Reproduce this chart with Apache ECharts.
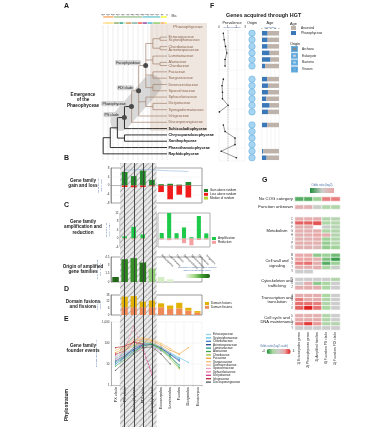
<!DOCTYPE html>
<html>
<head>
<meta charset="utf-8">
<script src="https://cdn.jsdelivr.net/npm/echarts@6.0.0/dist/echarts.min.js"></script>
<style>
html,body{margin:0;padding:0;background:#ffffff;}
#chart{width:389px;height:446px;}
</style>
</head>
<body>
<div id="chart"></div>
<script>
// ================= DATA =================
const eraNames = ['Cenozoic','Mesozoic','Paleozoic','Neoproterozoic'];
const eraDurations = [66,186,289,109];
const periodNames = ['Neogene','Paleogene','Cretaceous','Jurassic','Triassic','Permian','Carboniferous','Devonian','Silurian','Ordovician','Cambrian','Ediacaran','Cryogenian'];
const periodDurations = [23,43,79,56,51,47,60,60,24,42,56,94,15];

const speciesTree = {name:'Stramenopiles', children:[
  {name:'n1', children:[
    {name:'n2', children:[
      {name:'PS clade', children:[
        {name:'Phaeophyceae', children:[
          {name:'FDI clade', children:[
            {name:'Fucophycideae', children:[
              {name:'ect', children:[
                {name:'ect1', children:[{name:'Ectocarpaceae'},{name:'Scytosiphonaceae'}]},
                {name:'ect2', children:[{name:'Chordariaceae'},{name:'Acinetosporaceae'}]}]},
              {name:'lam', children:[{name:'Laminariaceae'},{name:'lam1', children:[{name:'Alariaceae'},{name:'Chordaceae'}]}]},
              {name:'fuc', children:[{name:'Fucaceae'},{name:'Sargassaceae'}]},
              {name:'des', children:[{name:'Desmarestiaceae'},{name:'Sporochnaceae'}]}]},
            {name:'dic', children:[{name:'Sphacelariaceae'},{name:'dic1', children:[{name:'Dictyotaceae'},{name:'Syringodermataceae'}]}]},
            {name:'Ishigeaceae'}]},
          {name:'Discosporangiaceae'}]},
        {name:'Schizocladiophyceae'}]},
      {name:'n3', children:[{name:'Chrysoparadoxophyceae'},{name:'Xanthophyceae'}]}]},
    {name:'Phaeothamniophyceae'}]},
  {name:'Raphidophyceae'}]};

const phylostrata = ['PX clade','PS clade','Phaeophyceae','FDI clade','Fucophycideae','Ectocarpales','Laminariales','Fucales','Dictyotales','Ectocarpus'];
const emergenceStrata = ['PS clade','Phaeophyceae','FDI clade','Fucophycideae'];

const familyGain = [null,6.2,4.3,6.8,2.6,0.6,0.8,0.4,1.6,null];
const familyLoss = [null,-0.7,-0.8,-0.7,-0.3,-3.0,-6.3,-4.2,-5.5,null];
const randomMedian = [null,7.0,7.1,7.3,7.2,6.9,6.7,6.6,6.4,null];

const ampStrata = ['PS clade','Phaeophyceae','FDI clade','Fucophycideae'];
const ampMain = [1.0,5.5,1.9,null];
const redMain = [-0.3,-0.4,-0.3,null];
const insetGroups = ['Ectocarpales','Laminariales','Fucales','Desmarestiales','Sphacelariales','Dictyotales','Ishigeales'];
const ampInset = [2.6,12.5,2.5,5.2,0.6,10.6,2.4];
const redInset = [-0.5,-0.8,-0.4,-2.2,-3.2,-0.7,-0.5];

const originShare = [0.9,4.1,4.3,3.5,2.4,0.9,0.5];
const originShade = [0.95,0.8,0.72,0.88,0.4,0.12,0.08];

const domainFission = [null,7,7,7,7,7,5.5,6,4,2];
const domainFusion = [null,9.5,10,5,6,3.5,3,5,2.5,1.5];

const founderNames = ['Ectocarpaceae','Scytosiphonaceae','Chordariaceae','Acinetosporaceae','Laminariaceae','Alariaceae','Chordaceae','Fucaceae','Sargassaceae','Desmarestiaceae','Sporochnaceae','Sphacelariaceae','Dictyotaceae','Ishigeaceae','Discosporangiaceae'];
const founderCounts = [
  [22,35,55,80,95,60,32,18,null,null],
  [18,30,50,90,100,65,35,20,12,null],
  [10,20,42,75,85,55,30,16,null,null],
  [14,25,48,82,88,58,28,14,null,null],
  [12,22,60,95,80,45,22,9,null,null],
  [8,16,38,70,90,52,24,7,null,null],
  [28,45,75,120,95,50,18,6,null,null],
  [35,55,110,160,130,80,45,30,60,null],
  [45,70,150,180,150,95,55,28,null,null],
  [20,38,85,130,110,65,35,null,null,null],
  [16,28,55,95,72,38,null,null,null,null],
  [26,48,650,45,4,null,null,null,null,null],
  [30,40,120,60,3,null,null,null,null,null],
  [60,70,110,90,null,null,null,null,null,null],
  [5,12,30,60,65,30,10,null,null,null]
];

const hgtSlots = ['h1','h2','h3','h4','h5','h6','gapA','h7','h8','h9','h10','h11','h12','gapB','h13','h14','h15','h16','h17','h18'];
const hgtPrevalence = [0.5,0.6,0.75,0.9,0.7,0.7,null,0.5,0.35,0.4,0.4,1.05,0.05,null,0.5,0.7,1.85,1.85,0.25,2.0];
const hgtOrigin = ['Bacteria','Bacteria','Bacteria','Bacteria','Bacteria','Bacteria',null,'Bacteria','Bacteria','Bacteria','Bacteria','Bacteria','Bacteria',null,'Bacteria','Bacteria','Bacteria','Bacteria','Bacteria','Bacteria'];
const hgtAgePhaeo = [0.33,0.33,0.33,0.45,0.5,0.18,null,0.3,0.35,0.35,0.25,0.45,0.35,null,0.3,null,null,null,0.08,0.27];
const hgtAgeAncestral = [0.67,0.67,0.67,0.55,0.5,0.82,null,0.7,0.65,0.65,0.75,0.55,0.65,null,0.7,null,null,null,0.92,0.73];
const originNames = ['Archaea','Eukaryote','Bacteria','Viruses'];

const cogColumns = ['1) Ectocarpales genes','2) Phaeophyceae genes','3) Amplified families','4) Founders PS clade','5) Founders FDI clade'];
const cogRowIds = ['noCOG','g1','S','g2','g3','C','E','F','G','H','I','P','Q','g4','M','N','O','T','V','g5','W','U','Z','g6','A','B','J','K','g7','D','L','X','Y'];
const cogValues = {
  noCOG:[-3.2,-3.2,-2.2,2.6,2.6],
  S:[1.4,1.4,-0.3,-1.5,-1.6],
  C:[1.5,1.5,1.6,-1.6,-1.2],
  E:[3.0,3.0,3.2,-1.8,-1.5],
  F:[1.4,1.4,null,-0.2,-1.2],
  G:[1.5,1.5,1.6,-1.8,-1.6],
  H:[1.4,1.5,2.0,1.6,-1.4],
  I:[1.4,1.4,1.6,-2.2,-1.6],
  P:[1.5,1.5,1.5,-2.3,-1.5],
  Q:[1.4,1.4,1.0,-2.3,-2.1],
  M:[1.8,1.8,-2.4,-2.2,-2.8],
  N:[2.0,2.0,1.5,-2.6,-3.6],
  O:[2.6,2.8,1.6,-3.2,-2.2],
  T:[1.6,1.6,1.5,-1.8,-0.3],
  V:[0,0,null,null,null],
  W:[0,0,0,0,-1.5],
  U:[0,1.6,-2.4,-2.0,0],
  Z:[1.6,1.6,1.6,-1.8,0],
  A:[1.6,1.6,1.6,-2.0,0],
  B:[2.6,1.6,1.6,-1.6,0],
  J:[2.8,2.8,2.6,-1.6,0],
  K:[3.0,4.0,2.8,-2.0,0],
  D:[1.5,1.5,1.5,-1.6,0],
  L:[1.6,1.6,1.6,-1.6,0],
  X:[2.6,3.6,2.2,-1.6,-1.4],
  Y:[0,0,0,0,0]
};
const cogSideLabels = {noCOG:'No COG category', S:'Function unknown'};
const cogGroupLabels = {G:'Metabolism', O:'Cell wall and\nsignaling', U:'Cytoskeleton and\ntrafficking', B:'Transcription and\ntranslation', L:'Cell cycle and\nDNA maintenance'};

// ================= STYLES =================
const FONT = 'Liberation Sans, Arial, Helvetica, sans-serif';
const BROWN = '#a3826f';
const eraColors = ['#f2f91d','#67c5ca','#99c08d','#f7a55a'];
const periodColors = ['#ffe619','#fd9a52','#7fc64e','#34b2c9','#812b92','#f04028','#67a599','#cb8c37','#b3e1b6','#009270','#7fa056','#fed96a','#fecc5c'];
const founderColors = ['#8fd3ea','#5ec0e4','#3b7fd4','#23478f','#1d9a8a','#3aa64a','#9bbf3a','#f0a030','#f4c070','#f2b7a0','#e9a0c0','#e87aa8','#d43a8a','#b02838','#555555'];
const originColors = {Archaea:'#6b6b6b', Eukaryote:'#b9c4dc', Bacteria:'#8fcaec', Viruses:'#4aa3dc'};

function depthOf(n){ return n.children ? 1 + Math.max(...n.children.map(depthOf)) : 0; }
const TREE_MAX = depthOf(speciesTree);
function buildTree(node, depth, brown) {
  const isBrown = brown || node.name === 'Phaeophyceae';
  if (!node.children) {
    let out = {name: node.name, symbolSize: 0,
      label: {show:true, position:'right', distance:1.5, fontSize:3.8, fontFamily:FONT,
        color: brown ? '#8a6652' : '#111', fontWeight: brown ? 'normal' : 'bold'}};
    for (let d = depth; d < TREE_MAX; d++) {
      out = {name:'', symbolSize:0, label:{show:false},
        lineStyle:{color: brown ? BROWN : '#1a1a1a', width: brown ? 0.7 : 0.9}, children:[out]};
    }
    return out;
  }
  const tagged = emergenceStrata.includes(node.name);
  return {
    name: node.name,
    symbol: 'circle',
    symbolSize: tagged ? 5 : 0,
    itemStyle: {color:'#4a4a4a'},
    label: tagged ? {show:true, position:'left', distance:2, offset:[0,-3], fontSize:3.5, fontFamily:FONT, color:'#222',
      backgroundColor:'#d6d6d6', borderRadius:1.5, padding:[0.6,1.2]} : {show:false},
    lineStyle: {color: isBrown ? BROWN : '#1a1a1a', width: isBrown ? 0.7 : 0.9},
    children: node.children.map(c => buildTree(c, depth + 1, isBrown))
  };
}
const treeRoot = buildTree(speciesTree, 0, false);

const smallAxisLabel = {fontSize:3, margin:1.5, color:'#333', fontFamily:FONT};
const thinLine = {show:true, lineStyle:{color:'#666', width:0.5}};
const grids = [
  {left:103, top:16, width:64, height:8},
  {left:103, top:25, width:64, height:135},
  {left:111, top:163, width:91, height:264},
  {left:111, top:168, width:91, height:35, show:true, borderColor:'#555', borderWidth:0.6},
  {left:120, top:213, width:36.4, height:34, show:true, borderColor:'#777', borderWidth:0.6},
  {left:158, top:213, width:52, height:34, show:true, borderColor:'#777', borderWidth:0.6},
  {left:111, top:257, width:91, height:25, show:true, borderColor:'#666', borderWidth:0.6},
  {left:111, top:295, width:91, height:20, show:true, borderColor:'#555', borderWidth:0.6},
  {left:111, top:322, width:91, height:63},
  {left:219, top:30, width:26, height:131},
  {left:247, top:30, width:10, height:131},
  {left:262, top:30, width:17, height:131},
  {left:295, top:197, width:45, height:133}
].map(g => Object.assign({containLabel:false, outerBoundsMode:'none', backgroundColor:'transparent'}, g));

const hiddenCat = (gi, data, extra) => Object.assign({type:'category', gridIndex:gi, data:data, axisLine:{show:false}, axisTick:{show:false}, axisLabel:{show:false}, splitLine:{show:false}}, extra || {});

const xAxes = [
  {type:'value', gridIndex:0, min:0, max:650, interval:50, inverse:true, position:'top',
    axisLine:{show:false}, axisTick:{show:true, length:1.2, lineStyle:{color:'#555', width:0.4}},
    axisLabel:{fontSize:2.4, margin:1, color:'#333', fontFamily:FONT}, splitLine:{show:false},
    name:'Ma', nameLocation:'start', nameGap:2, nameTextStyle:{fontSize:3.5, color:'#333'}},
  {type:'value', gridIndex:1, min:0, max:650, interval:50, inverse:true,
    axisLine:{show:false}, axisTick:{show:false}, axisLabel:{show:false},
    splitLine:{show:true, lineStyle:{color:'#d2d2d2', width:0.4}}},
  hiddenCat(2, phylostrata),
  hiddenCat(3, phylostrata, {axisLine:{show:true, onZero:true, lineStyle:{color:'#777', width:0.5}}}),
  hiddenCat(4, ampStrata, {axisLine:{show:true, onZero:true, lineStyle:{color:'#999', width:0.4}}}),
  hiddenCat(5, insetGroups, {axisLine:{show:true, onZero:true, lineStyle:{color:'#999', width:0.4}},
    axisLabel:{show:true, rotate:-45, fontSize:2.8, margin:8, color:'#333', interval:0, fontFamily:FONT}}),
  hiddenCat(6, phylostrata),
  hiddenCat(7, phylostrata),
  hiddenCat(8, phylostrata, {axisLine:{show:true, lineStyle:{color:'#888', width:0.5}},
    axisTick:{show:true, length:1.5, lineStyle:{color:'#888', width:0.4}},
    axisLabel:{show:true, rotate:90, fontSize:3.8, margin:2, color:'#222', interval:0, fontFamily:FONT},
    splitLine:{show:true, lineStyle:{color:'#e6e6e6', width:0.4}}}),
  {type:'value', gridIndex:9, min:0, max:3, interval:1, position:'top',
    axisLine:{show:false}, axisTick:{show:false}, axisLabel:smallAxisLabel,
    splitLine:{show:true, lineStyle:{color:'#e2e2e2', width:0.4}}},
  hiddenCat(10, ['origin']),
  {type:'value', gridIndex:11, min:0, max:1, interval:0.25, position:'top',
    axisLine:{show:false}, axisTick:{show:false},
    axisLabel:{fontSize:2.4, margin:1, color:'#333', fontFamily:FONT, formatter: v => (v === 0 || v === 1) ? String(v) : String(v).replace('0.', '.')},
    splitLine:{show:true, lineStyle:{color:'#e2e2e2', width:0.4}}},
  hiddenCat(12, cogColumns, {position:'bottom', axisLabel:{show:true, rotate:90, fontSize:3.3, margin:2, color:'#222', interval:0, fontFamily:FONT}})
];

const yName = (t) => ({name:t, nameLocation:'middle', nameRotate:90, nameGap:5, nameTextStyle:{fontSize:2.4, color:'#4a6fa5', fontFamily:FONT, lineHeight:3}});
const yAxes = [
  hiddenCat(0, ['Era','Period'], {inverse:true}),
  {type:'value', gridIndex:1, min:0, max:1, show:false},
  {type:'value', gridIndex:2, min:0, max:1, show:false},
  Object.assign({type:'value', gridIndex:3, min:-8, max:8, interval:4, axisLine:thinLine, axisTick:{show:false},
    axisLabel:smallAxisLabel, splitLine:{show:true, lineStyle:{color:'#ececec', width:0.4}}}, yName('Gene families\n(gain / loss)')),
  Object.assign({type:'value', gridIndex:4, min:-4, max:12, interval:4, axisLine:thinLine, axisTick:{show:false},
    axisLabel:smallAxisLabel, splitLine:{show:true, lineStyle:{color:'#ececec', width:0.4}}}, yName('Gene families\n(amp. / red.)')),
  {type:'value', gridIndex:5, min:-4, max:12, interval:4, axisLine:{show:false}, axisTick:{show:false},
    axisLabel:{show:false}, splitLine:{show:true, lineStyle:{color:'#ececec', width:0.4}}},
  Object.assign({type:'value', gridIndex:6, min:0, max:4.5, interval:1.5, axisLine:thinLine, axisTick:{show:false},
    axisLabel:smallAxisLabel, splitLine:{show:false}}, yName('Origin of amplified\nfamilies (%)')),
  Object.assign({type:'value', gridIndex:7, min:0, max:18, interval:6, axisLine:thinLine, axisTick:{show:false},
    axisLabel:smallAxisLabel, splitLine:{show:false}}, yName('Fusions /\nfissions')),
  Object.assign({type:'log', gridIndex:8, min:1, max:1000, logBase:10, axisLine:thinLine, axisTick:{show:false},
    axisLabel:smallAxisLabel, splitLine:{show:true, lineStyle:{color:'#e6e6e6', width:0.4}}}, yName('Founder gene families (n)')),
  hiddenCat(9, hgtSlots, {inverse:true, splitLine:{show:true, lineStyle:{color:'#ececec', width:0.4}}}),
  hiddenCat(10, hgtSlots, {inverse:true}),
  hiddenCat(11, hgtSlots, {inverse:true}),
  hiddenCat(12, cogRowIds, {inverse:true, position:'left', offset:0, axisLabel:{show:true, interval:0, margin:2, fontFamily:FONT,
    formatter: v => cogSideLabels[v] ? '{big|' + cogSideLabels[v] + '}' : (v.length === 1 ? '{sm|' + v + '}' : ''),
    rich:{big:{fontSize:4.3, color:'#222', fontFamily:FONT}, sm:{fontSize:2.8, color:'#555', fontFamily:FONT}}}}),
  hiddenCat(12, cogRowIds, {inverse:true, position:'left', offset:0, axisLabel:{show:true, interval:0, margin:18, align:'center', fontSize:4.1,
    lineHeight:4.6, color:'#222', fontFamily:FONT, formatter: v => cogGroupLabels[v] || ''}})
];

// ================= SERIES =================
const series = [];
eraNames.forEach((n, i) => series.push({type:'bar', name:n, xAxisIndex:0, yAxisIndex:0, stack:'era', barCategoryGap:'0%',
  data:[eraDurations[i], '-'], itemStyle:{color:eraColors[i], borderColor:'#ffffff', borderWidth:0.3}, silent:true}));
periodNames.forEach((n, i) => series.push({type:'bar', name:n, xAxisIndex:0, yAxisIndex:0, stack:'period', barCategoryGap:'0%',
  data:['-', periodDurations[i]], itemStyle:{color:periodColors[i], borderColor:'#ffffff', borderWidth:0.3}, silent:true}));

series.push({type:'tree', data:[treeRoot], left:103, right:222, top:34, bottom:289, orient:'LR', layout:'orthogonal',
  edgeShape:'polyline', edgeForkPosition:'2%', initialTreeDepth:-1, expandAndCollapse:false, roam:false, silent:true,
  symbol:'circle', symbolSize:0, label:{show:false}, lineStyle:{width:0.8, color:'#1a1a1a', curveness:0}, z:3});

const emergenceMask = phylostrata.map(p => emergenceStrata.includes(p) ? 1 : 0);
series.push({type:'bar', name:'emergence', xAxisIndex:2, yAxisIndex:2, data:emergenceMask, barCategoryGap:'0%', silent:true, z:0,
  itemStyle:{color:'#e8e8e8', decal:{symbol:'rect', symbolSize:1, dashArrayX:[[1,0]], dashArrayY:[0.6,2.2], rotation:-Math.PI/4, color:'rgba(90,90,90,0.45)'}}});
series.push({type:'line', name:'strata lines', xAxisIndex:2, yAxisIndex:2, data:phylostrata.map(() => null), silent:true, z:6,
  markLine:{silent:true, symbol:['none','none'], label:{show:false}, lineStyle:{color:'#3a3a3a', width:0.9, type:'solid'},
    data: emergenceStrata.map(s => ({xAxis:s}))}});

series.push({type:'bar', name:'Gain above random', xAxisIndex:3, yAxisIndex:3, stack:'gl', barWidth:'62%', data:familyGain, itemStyle:{color:'#23892c'}});
series.push({type:'bar', name:'Loss above random', xAxisIndex:3, yAxisIndex:3, stack:'gl', barWidth:'62%', data:familyLoss, itemStyle:{color:'#f01c1c'}});
series.push({type:'line', name:'Median of random', xAxisIndex:3, yAxisIndex:3, data:randomMedian, symbol:'none', lineStyle:{color:'#7aa7d8', width:0.5}});

series.push({type:'bar', name:'Amplification', xAxisIndex:4, yAxisIndex:4, stack:'ar', barWidth:'50%', data:ampMain, itemStyle:{color:'#1fc94a'}});
series.push({type:'bar', name:'Reduction', xAxisIndex:4, yAxisIndex:4, stack:'ar', barWidth:'50%', data:redMain, itemStyle:{color:'#f5a0a0'}});
series.push({type:'bar', name:'Amplification', xAxisIndex:5, yAxisIndex:5, stack:'ar2', barWidth:'55%', data:ampInset, itemStyle:{color:'#1fc94a'}});
series.push({type:'bar', name:'Reduction', xAxisIndex:5, yAxisIndex:5, stack:'ar2', barWidth:'55%', data:redInset, itemStyle:{color:'#f5a0a0'}});

const originIdx = series.length;
series.push({type:'bar', name:'origin', xAxisIndex:6, yAxisIndex:6, barWidth:'72%',
  data: originShare.map((v, i) => [i, v, originShade[i]])});

series.push({type:'bar', name:'Domain fissions', xAxisIndex:7, yAxisIndex:7, stack:'dom', barWidth:'68%', data:domainFission, itemStyle:{color:'#ee8a5a'}});
series.push({type:'bar', name:'Domain fusions', xAxisIndex:7, yAxisIndex:7, stack:'dom', barWidth:'68%', data:domainFusion, itemStyle:{color:'#e2b106'}});

founderNames.forEach((n, i) => series.push({type:'line', name:n, xAxisIndex:8, yAxisIndex:8, data:founderCounts[i],
  symbol:'circle', symbolSize:1.3, connectNulls:false,
  lineStyle:{color:founderColors[i], width:0.6, type:(i === 11 || i === 12) ? 'dashed' : 'solid'},
  itemStyle:{color:founderColors[i]}}));

series.push({type:'line', name:'prevalence', xAxisIndex:9, yAxisIndex:9, connectNulls:false,
  data: hgtPrevalence.map((v, i) => v == null ? ['-', i] : [v, i]),
  symbol:'circle', symbolSize:1.6, itemStyle:{color:'#111'}, lineStyle:{color:'#333', width:0.5},
  markLine:{silent:true, symbol:['none','none'], label:{show:false}, lineStyle:{color:'#888', width:0.4, type:'dashed'}, data:[{xAxis:1}]}});

originNames.forEach(o => series.push({type:'scatter', name:o, xAxisIndex:10, yAxisIndex:10, symbolSize:6.5,
  itemStyle:{color:originColors[o], borderColor:'#4c9cd6', borderWidth:0.5},
  data: hgtOrigin.map((v, i) => v === o ? [0, i] : null).filter(d => d)}));

series.push({type:'bar', name:'Phaeophyceae', xAxisIndex:11, yAxisIndex:11, stack:'age', barWidth:4.5, data:hgtAgePhaeo, itemStyle:{color:'#3a78b8'}});
series.push({type:'bar', name:'Ancestral', xAxisIndex:11, yAxisIndex:11, stack:'age', barWidth:4.5, data:hgtAgeAncestral, itemStyle:{color:'#bdb3aa'}});

const heatData = [];
cogRowIds.forEach((id, r) => { const row = cogValues[id]; if (!row) return;
  row.forEach((v, c) => { if (v != null) heatData.push([c, r, v]); }); });
const heatIdx = series.length;
series.push({type:'heatmap', name:'odds', xAxisIndex:12, yAxisIndex:12, data:heatData,
  itemStyle:{borderColor:'#ffffff', borderWidth:0.7}});

// ================= TEXT / DECOR =================
const T = (text, x, y, o) => Object.assign({type:'text', x:x, y:y, silent:true, z:50,
  style:Object.assign({text:text, fontSize:4.6, fontWeight:'bold', fill:'#1a1a1a', fontFamily:FONT, align:'center', verticalAlign:'top', lineHeight:5.4}, (o && o.style) || {})},
  o ? {rotation:o.rotation || 0} : {});
const graphic = [
  {type:'rect', x:150, y:23, shape:{width:57, height:108}, style:{fill:'#efe6df'}, z:-5, silent:true},
  {type:'rect', x:136, y:103, rotation:0.85, shape:{x:-34, y:-10, width:68, height:20, r:10}, style:{fill:'rgba(140,140,140,0.33)'}, z:-4, silent:true},
  T('Phaeophyceae', 188, 24, {style:{fontSize:4.4, fontWeight:'normal', fill:'#8a6652'}}),
  T('A', 64, 3, {style:{fontSize:7, align:'left'}}),
  T('B', 64, 155, {style:{fontSize:7, align:'left'}}),
  T('C', 64, 202, {style:{fontSize:7, align:'left'}}),
  T('D', 64, 286, {style:{fontSize:7, align:'left'}}),
  T('E', 64, 316, {style:{fontSize:7, align:'left'}}),
  T('F', 210, 3, {style:{fontSize:7, align:'left'}}),
  T('G', 262, 177, {style:{fontSize:7, align:'left'}}),
  T('Emergence\nof the\nPhaeophyceae', 83, 92),
  T('Gene family\ngain and loss', 83, 178),
  T('Gene family\namplification and\nreduction', 83, 219),
  T('Origin of amplified\ngene families', 83, 264),
  T('Domain fusions\nand fissions', 83, 299),
  T('Gene family\nfounder events', 83, 343),
  T('Phylostratum', 67, 405, {rotation:Math.PI / 2, style:{fontSize:5, verticalAlign:'middle'}}),
  T('Genes acquired through HGT', 226, 13, {style:{fontSize:5.4, align:'left'}}),
  T('Prevalence', 232, 20, {style:{fontSize:3.8, fontWeight:'normal'}}),
  T('No. of genomes', 232, 24.5, {style:{fontSize:2.4, fontWeight:'normal', fill:'#4a6fa5'}}),
  T('Origin', 252, 20, {style:{fontSize:3.8, fontWeight:'normal'}}),
  T('Age', 270, 20, {style:{fontSize:3.8, fontWeight:'normal'}}),
  T('Proportion', 270, 24.5, {style:{fontSize:2.4, fontWeight:'normal', fill:'#4a6fa5'}}),
  T('Age', 290, 21, {style:{fontSize:3.8, fontWeight:'normal', align:'left'}}),
  T('Origin', 290, 41, {style:{fontSize:3.8, fontWeight:'normal', align:'left'}}),
  T('Odds ratio (log2)', 322, 183, {style:{fontSize:2.8, fontWeight:'normal', fill:'#4a6fa5'}}),
  {type:'rect', x:310, y:188, shape:{width:24, height:5}, silent:true, z:50,
    style:{fill:new echarts.graphic.LinearGradient(0, 0, 1, 0, [{offset:0, color:'#1f8f38'}, {offset:0.5, color:'#cdcdcd'}, {offset:1, color:'#eaa5a5'}])}},
  T('Odds ratio (log2 scale)', 274, 344, {style:{fontSize:2.8, fontWeight:'normal', fill:'#4a6fa5'}}),
  T('Proportion of amplified gene families\nwith a phylostratum origin', 197, 266, {style:{fontSize:2.4, fontWeight:'normal', fill:'#4a6fa5', lineHeight:3}})
];

const legendBase = {orient:'vertical', selectedMode:false, itemGap:0.8, itemWidth:4, itemHeight:3, padding:0,
  textStyle:{fontSize:3, color:'#222', fontFamily:FONT, padding:[0,0,0,-3]}, icon:'rect'};
const legends = [
  Object.assign({}, legendBase, {left:204, top:189, data:['Gain above random','Loss above random','Median of random']}),
  Object.assign({}, legendBase, {left:212, top:237, data:['Amplification','Reduction']}),
  Object.assign({}, legendBase, {left:205, top:302, data:['Domain fusions','Domain fissions']}),
  Object.assign({}, legendBase, {left:206, top:333, itemGap:0.4, itemWidth:5, itemHeight:1.3, data:founderNames}),
  Object.assign({}, legendBase, {left:291, top:26, itemWidth:5, itemHeight:4, itemGap:1, textStyle:{fontSize:3.2, color:'#222', fontFamily:FONT}, data:['Ancestral','Phaeophyceae']}),
  Object.assign({}, legendBase, {left:291, top:46, itemWidth:5, itemHeight:4, itemGap:0.8, icon:'rect', textStyle:{fontSize:3.2, color:'#222', fontFamily:FONT}, data:originNames})
];

const option = {
  animation:false,
  backgroundColor:'#ffffff',
  textStyle:{fontFamily:FONT},
  grid:grids,
  xAxis:xAxes,
  yAxis:yAxes,
  legend:legends,
  visualMap:[
    {type:'continuous', seriesIndex:originIdx, dimension:2, min:0, max:1, calculable:false,
      inRange:{color:['#eef7e4','#a6d98a','#3c9a2c','#1c5f14']}, orient:'horizontal', left:186, top:274,
      itemWidth:4, itemHeight:24, text:['',''], textStyle:{fontSize:3}, padding:0},
    {type:'continuous', seriesIndex:heatIdx, dimension:2, min:-4, max:4, calculable:false,
      inRange:{color:['#1f8f38','#a9d7a0','#cdcdcd','#eaa5a5','#e01e1e']}, orient:'horizontal', left:262, top:349,
      itemWidth:5, itemHeight:24, text:['4','-4'], textGap:2, textStyle:{fontSize:3, color:'#333'}, padding:0}
  ],
  graphic:graphic,
  series:series
};

const chart = echarts.init(document.getElementById('chart'), null, {renderer:'canvas', width:389, height:446});
chart.setOption(option);
</script>
</body>
</html>
